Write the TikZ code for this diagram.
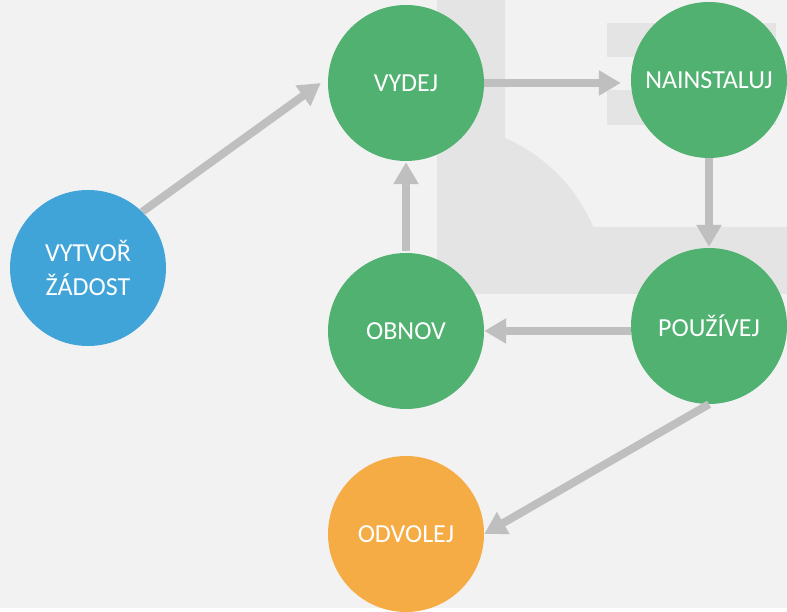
\documentclass[tikz,border=0pt]{standalone}
\usepackage{fontspec}
\setmainfont{Carlito}
\usepackage{tikz}
\usetikzlibrary{arrows.meta,calc}

\definecolor{bggray}{HTML}{F2F2F2}
\definecolor{markgray}{HTML}{E4E4E4}
\definecolor{arrowgray}{HTML}{BFBFBF}
\definecolor{stepgreen}{HTML}{50B170}
\definecolor{stepblue}{HTML}{40A4D8}
\definecolor{steporange}{HTML}{F5AC44}

\begin{document}
\begin{tikzpicture}[
  x=1pt,y=-1pt,
  statestyle/.style={circle,minimum size=156pt,inner sep=0pt,text=white,align=center,
    font=\fontsize{26}{34}\selectfont},
  flowstyle/.style={draw=arrowgray,line width=8pt,-{Triangle[length=22pt,width=24pt]}}
]
% page and the faint mark behind the cycle
\fill[bggray] (0,0) rectangle (787,608);
\fill[markgray] (437,0) -- (505,0) -- (505,138) arc[start angle=-66.4,end angle=-23.2,radius=170]
  -- (787,227) -- (787,294) -- (437,294) -- cycle;
\fill[markgray] (607,23) rectangle (776,57);
\fill[markgray] (607,90) rectangle (776,125);

\node [statestyle,fill=stepblue] (request) at (88,268) {VYTVOŘ\\ŽÁDOST} ;
\node [statestyle,fill=stepgreen] (issue) at (406,83) {VYDEJ} ;
\node [statestyle,fill=stepgreen] (install) at (709,80) {NAINSTALUJ} ;
\node [statestyle,fill=stepgreen] (use) at (709,326) {POUŽÍVEJ} ;
\node [statestyle,fill=stepgreen] (renew) at (406,331) {OBNOV} ;
\node [statestyle,fill=steporange] (revoke) at (406,534) {ODVOLEJ} ;

\draw[flowstyle] (request.46) -- ($(issue.west)+(-7,0)$) ;
\draw[flowstyle] (issue.east) -- ($(issue.east -| install.west)+(-10,0)$) ;
\draw[flowstyle,shorten >=1pt] (install.south) -- (use.north) ;
\draw[flowstyle] (use.west |- renew.east) -- (renew.east) ;
\draw[flowstyle,shorten <=2pt,shorten >=1pt] (renew.north) -- (issue.south) ;
\draw[flowstyle] (use.south) -- (revoke.east) ;

\end{tikzpicture}
\end{document}
